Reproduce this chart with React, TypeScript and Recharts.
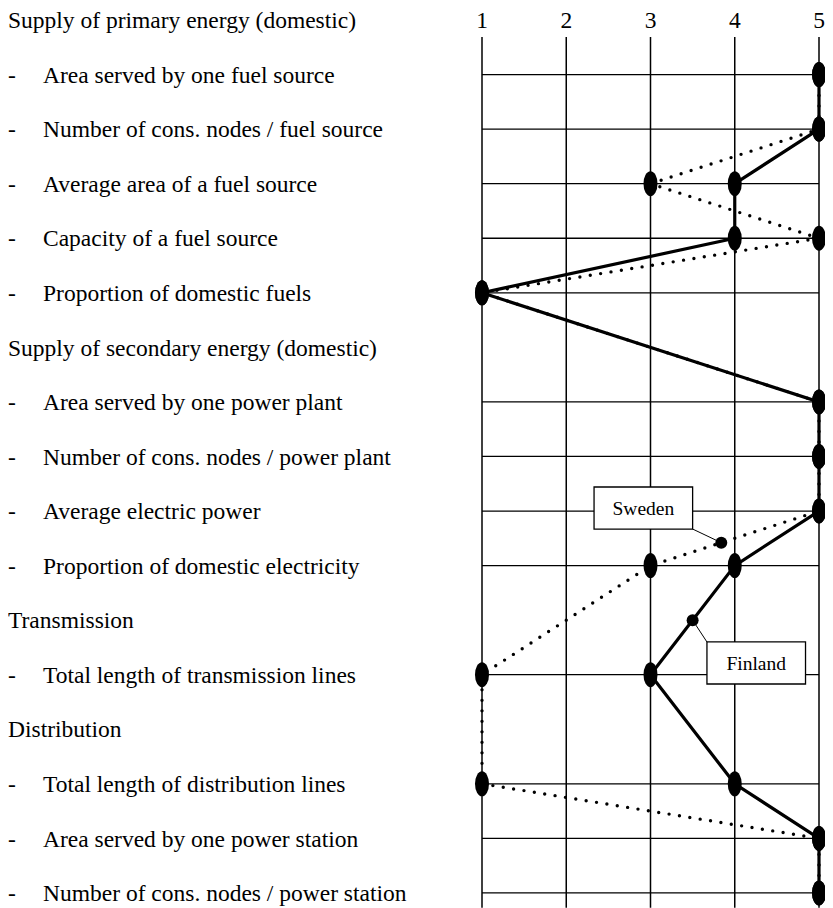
import { ScatterChart, Scatter, XAxis, YAxis, ReferenceLine, ReferenceArea, ReferenceDot } from 'recharts';

const rowLabels = [
  'Supply of primary energy (domestic)',
  'Area served by one fuel source',
  'Number of cons. nodes / fuel source',
  'Average area of a fuel source',
  'Capacity of a fuel source',
  'Proportion of domestic fuels',
  'Supply of secondary energy (domestic)',
  'Area served by one power plant',
  'Number of cons. nodes / power plant',
  'Average electric power',
  'Proportion of domestic electricity',
  'Transmission',
  'Total length of transmission lines',
  'Distribution',
  'Total length of distribution lines',
  'Area served by one power station',
  'Number of cons. nodes / power station',
];
const headerRows = [0, 6, 11, 13];
const finland = [null, 5, 5, 4, 4, 1, null, 5, 5, 5, 4, null, 3, null, 4, 5, 5];
const sweden = [null, 5, 5, 3, 5, 1, null, 5, 5, 5, 3, null, 1, null, 1, 5, 5];
const scaleTicks = [1, 2, 3, 4, 5];

const FONT = 'Liberation Serif';
const rowIdx = rowLabels.map((_, i) => i);
const itemRows = rowIdx.filter((i) => !headerRows.includes(i));

const toPoints = (vals: (number | null)[]) =>
  vals.map((v, i) => (v == null ? null : { x: v, y: i })).filter(Boolean) as { x: number; y: number }[];

const finlandPts = toPoints(finland);
const swedenPts = toPoints(sweden);

// callouts in data coordinates
const callouts = [
  { name: 'Sweden', dot: { x: 3.84, y: 9.58 }, box: [2.33, 3.5, 8.56, 9.33], anchor: { x: 3.5, y: 9.33 } },
  { name: 'Finland', dot: { x: 3.5, y: 11 }, box: [3.67, 4.84, 11.4, 12.17], anchor: { x: 3.67, y: 11.4 } },
];

const Marker = (p: any) => <ellipse cx={p.cx} cy={p.cy} rx={7} ry={12.5} fill="#000" />;

const RowTick = (p: any) => {
  const i = p.payload.value;
  const label = rowLabels[i];
  if (headerRows.includes(i)) {
    return (
      <text x={0} y={p.y} dy="0.35em" fontSize={23.5} fontFamily={FONT} fill="#000">
        {label}
      </text>
    );
  }
  return (
    <g>
      <text x={0} y={p.y} dy="0.35em" fontSize={23.5} fontFamily={FONT} fill="#000">-</text>
      <text x={35} y={p.y} dy="0.35em" fontSize={23.5} fontFamily={FONT} fill="#000">{label}</text>
    </g>
  );
};

const ScaleTick = (p: any) => (
  <text x={p.x} y={12} dy="0.35em" textAnchor="middle" fontSize={23.5} fontFamily={FONT} fill="#000">
    {p.payload.value}
  </text>
);

export default function App() {
  return (
    <ScatterChart width={825} height={900} margin={{ top: 0, right: 14, bottom: 0, left: 0 }}>
      <XAxis
        type="number"
        dataKey="x"
        orientation="top"
        domain={[1, 5]}
        ticks={scaleTicks}
        interval={0}
        height={12}
        axisLine={false}
        tickLine={false}
        tick={<ScaleTick />}
      />
      <YAxis
        type="number"
        dataKey="y"
        domain={[0, 16.276]}
        allowDataOverflow
        reversed
        ticks={rowIdx}
        interval={0}
        width={474}
        axisLine={false}
        tickLine={false}
        tick={<RowTick />}
      />
      {scaleTicks.map((v) => (
        <ReferenceLine
          key={'v' + v}
          segment={[{ x: v, y: 0.31 }, { x: v, y: 16.27 }]}
          stroke="#000"
          strokeWidth={1.5}
        />
      ))}
      {itemRows.map((r) => (
        <ReferenceLine key={'h' + r} y={r} stroke="#000" strokeWidth={1.3} />
      ))}
      <Scatter
        data={swedenPts}
        fill="#000"
        isAnimationActive={false}
        shape={Marker}
        line={{ stroke: '#000', strokeWidth: 3.4, strokeDasharray: '0 10.5', strokeLinecap: 'round' }}
      />
      <Scatter
        data={finlandPts}
        fill="#000"
        isAnimationActive={false}
        shape={Marker}
        line={{ stroke: '#000', strokeWidth: 3.2 }}
      />
      {callouts.map((c) => (
        <ReferenceLine
          key={'l' + c.name}
          segment={[c.anchor, c.dot]}
          stroke="#000"
          strokeWidth={1}
        />
      ))}
      {callouts.map((c) => (
        <ReferenceArea
          key={'b' + c.name}
          x1={c.box[0]}
          x2={c.box[1]}
          y1={c.box[2]}
          y2={c.box[3]}
          fill="#fff"
          fillOpacity={1}
          stroke="#000"
          strokeWidth={1.3}
          zIndex={900}
          label={{ value: c.name, position: 'center', fontSize: 19.5, fontFamily: FONT, fill: '#000' }}
        />
      ))}
      {callouts.map((c) => (
        <ReferenceDot key={'d' + c.name} x={c.dot.x} y={c.dot.y} r={6} fill="#000" stroke="none" zIndex={950} />
      ))}
    </ScatterChart>
  );
}
